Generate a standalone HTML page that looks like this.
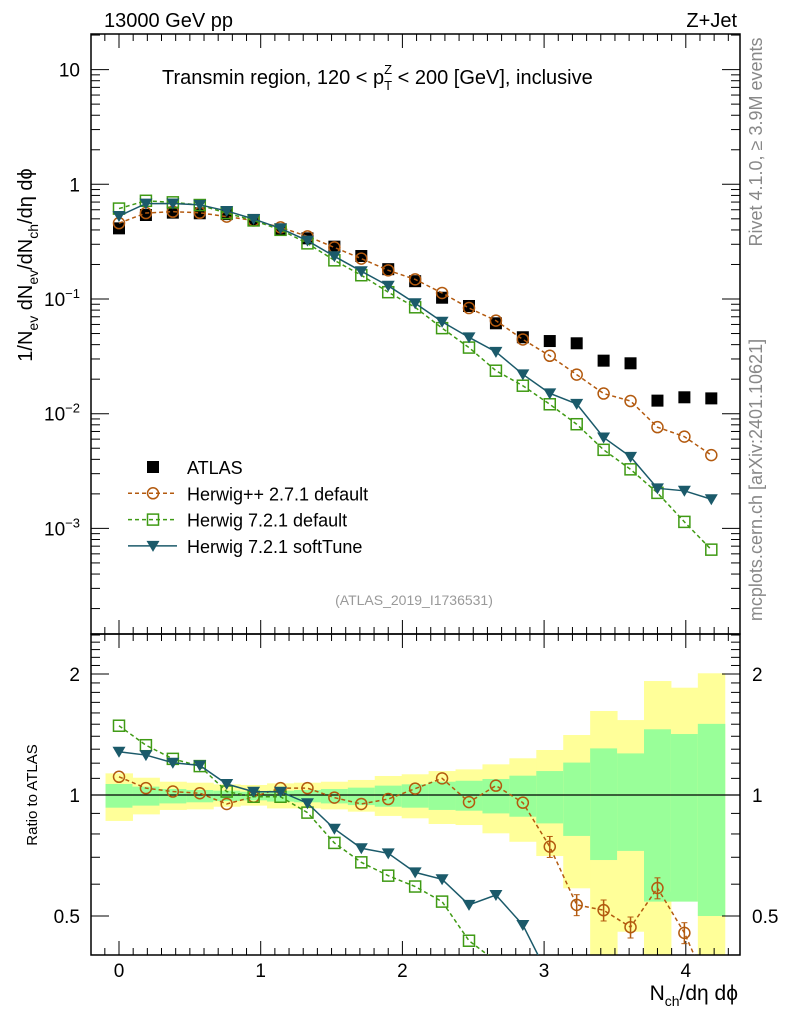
<!DOCTYPE html>
<html><head><meta charset="utf-8"><style>
html,body{margin:0;background:#fff;overflow:hidden;}
svg{display:block;font-family:"Liberation Sans",sans-serif;}
</style></head><body>
<svg id="c" width="786" height="1024" viewBox="0 0 786 1024"></svg>
<script>
const xVals=[0,0.19,0.38,0.57,0.76,0.95,1.14,1.33,1.52,1.71,1.9,2.09,2.28,2.47,2.66,2.85,3.04,3.23,3.42,3.61,3.8,3.99,4.18];
const atlas=[0.413,0.540,0.566,0.559,0.55,0.489,0.405,0.338,0.286,0.237,0.182,0.143,0.1026,0.0869,0.0614,0.0464,0.0430,0.0411,0.0290,0.0275,0.0130,0.0139,0.0136];
const ratioHpp=[1.11,1.04,1.02,1.01,0.95,0.99,1.04,1.04,0.985,0.95,0.977,1.037,1.10,0.96,1.055,0.957,0.744,0.533,0.517,0.469,0.587,0.454,0.32];
const ratioH7=[1.487,1.33,1.23,1.18,1.02,0.99,0.99,0.904,0.76,0.68,0.63,0.592,0.543,0.434,0.386,0.378,0.281,0.197,0.167,0.119,0.157,0.082,0.048];
const ratioSoft=[1.281,1.257,1.203,1.185,1.065,1.019,1.019,0.954,0.824,0.737,0.716,0.642,0.617,0.533,0.564,0.475,0.350,0.296,0.214,0.153,0.172,0.153,0.132];
const yelUp=[1.132,1.104,1.079,1.073,1.063,1.059,1.069,1.073,1.079,1.090,1.115,1.126,1.147,1.158,1.192,1.234,1.294,1.410,1.618,1.536,1.921,1.849,2.008];
const yelDn=[0.862,0.895,0.918,0.921,0.935,0.941,0.926,0.926,0.921,0.909,0.887,0.875,0.847,0.842,0.803,0.765,0.705,0.586,0.3,0.457,0.3,0.575,0.3];
const grnUp=[1.065,1.049,1.035,1.029,1.025,1.019,1.025,1.029,1.035,1.043,1.055,1.063,1.079,1.085,1.096,1.117,1.147,1.204,1.306,1.269,1.457,1.418,1.503];
const grnDn=[0.930,0.941,0.953,0.959,0.966,0.970,0.963,0.959,0.953,0.944,0.935,0.930,0.918,0.914,0.900,0.883,0.850,0.791,0.689,0.726,0.543,0.543,0.500];
const xTicks=[0,1,2,3,4];
const yTicksTop=[{v:10,t:"10"},{v:1,t:"1"},{v:0.1,t:"10<tspan dy='-8' font-size='13'>−1</tspan>"},{v:0.01,t:"10<tspan dy='-8' font-size='13'>−2</tspan>"},{v:0.001,t:"10<tspan dy='-8' font-size='13'>−3</tspan>"}];
const yTicksRat=[2,1,0.5];

const L=91,R=740,T=34,MB=634,B=955;
const X=v=>119+(v)*141.7;
const Yt=v=>184.3-Math.log10(v)*114.7;
const Yr=v=>795-Math.log10(v)*402;
const svg=document.getElementById('c');
const NS="http://www.w3.org/2000/svg";
function mk(tag,attrs,parent){const e=document.createElementNS(NS,tag);for(const k in attrs)e.setAttribute(k,attrs[k]);(parent||svg).appendChild(e);return e;}

const defs=mk('defs',{});
const c1=mk('clipPath',{id:'ct'},defs);mk('rect',{x:L,y:T,width:R-L,height:MB-T},c1);
const c2=mk('clipPath',{id:'cr'},defs);mk('rect',{x:L,y:MB,width:R-L,height:B-MB},c2);

const gBand=mk('g',{'clip-path':'url(#cr)'});


const half=0.095;
xVals.forEach((x,i)=>{
  const x0=X(x-half),x1=X(x+half);
  const y=mk('rect',{x:x0,y:Yr(yelUp[i]),width:x1-x0+0.5,height:Yr(yelDn[i])-Yr(yelUp[i]),fill:'#ffff99'},gBand);
  
  
  const g=mk('rect',{x:x0,y:Yr(grnUp[i]),width:x1-x0+0.5,height:Yr(grnDn[i])-Yr(grnUp[i]),fill:'#99ff99'},gBand);
  
  
});
const one=mk('line',{x1:L,x2:R,y1:Yr(1),y2:Yr(1),stroke:'#000','stroke-width':1.2});



[[T,MB],[MB,B]].forEach(([a,b],k)=>{const r=mk('rect',{x:L,y:a,width:R-L,height:b-a,fill:'none',stroke:'#000','stroke-width':1.5});

});

for(let v=-0.1;v<=4.4;v+=0.1){const vv=Math.round(v*10)/10;const x=X(vv);if(x<L||x>R)continue;
  const maj=Math.abs(vv-Math.round(vv))<1e-6;const len=maj?14:7;
  [[T,1],[MB,-1],[MB,1],[B,-1]].forEach(([y,d])=>mk('line',{x1:x,x2:x,y1:y,y2:y+d*len,stroke:'#000','stroke-width':1}));}
xTicks.forEach(v=>{const t=mk('text',{x:X(v),y:977,'font-size':19,'text-anchor':'middle'});t.textContent=v;

});

for(let d=-4;d<=1;d++)for(let m=1;m<=9;m++){const v=m*Math.pow(10,d);const y=Yt(v);if(y<T||y>MB)continue;
  const len=m==1?18:9;mk('line',{x1:L,x2:L+len,y1:y,y2:y,stroke:'#000'});mk('line',{x1:R,x2:R-len,y1:y,y2:y,stroke:'#000'});}
yTicksTop.forEach(o=>{const t=mk('text',{x:80,y:Yt(o.v)+7,'font-size':19,'text-anchor':'end'});t.innerHTML=o.t;

});
[0.4,0.5,0.6,0.7,0.8,0.9,1,1.1,1.2,1.3,1.4,1.5,1.6,1.7,1.8,1.9,2,2.1,2.2,2.3,2.4,2.5].forEach(v=>{const y=Yr(v);if(y<MB||y>B)return;
  const maj=[0.5,1,2].includes(v);const len=maj?18:9;mk('line',{x1:L,x2:L+len,y1:y,y2:y,stroke:'#000'});mk('line',{x1:R,x2:R-len,y1:y,y2:y,stroke:'#000'});});
yTicksRat.forEach(v=>{[[80,'end'],[752,'start']].forEach(([x,a])=>{const t=mk('text',{x:x,y:Yr(v)+7,'font-size':19,'text-anchor':a});t.textContent=v;

});});

const hppTop=atlas.map((a,i)=>a*ratioHpp[i]);
const h7Top=atlas.map((a,i)=>a*ratioH7[i]);
const softTop=atlas.map((a,i)=>a*ratioSoft[i]);
function marker(type,x,y,col,g){
  if(type=='circ')return mk('circle',{cx:x,cy:y,r:5.5,fill:'none',stroke:col,'stroke-width':1.5},g);
  if(type=='sq')return mk('rect',{x:x-5.5,y:y-5.5,width:11,height:11,fill:'none',stroke:col,'stroke-width':1.5},g);
  if(type=='tri')return mk('path',{d:`M${x-6.5},${y-5} L${x+6.5},${y-5} L${x},${y+6} Z`,fill:col},g);
  return mk('rect',{x:x-6,y:y-6,width:12,height:12,fill:col},g);
}
function series(name,vals,Y,clip,type,col,dash,err){
  const g=mk('g',{'clip-path':clip});
  
  
  if(type!='data'){const p=mk('polyline',{points:vals.map((v,i)=>X(xVals[i])+','+Y(v)).join(' '),fill:'none',stroke:col,'stroke-width':1.5,'stroke-dasharray':dash||'none'},g);
  
  }
  vals.forEach((v,i)=>{
    if(err&&i>=16){const x=X(xVals[i]);const e=0.06;mk('line',{x1:x,x2:x,y1:Y(v*(1+e)),y2:Y(v*(1-e)),stroke:col,'stroke-width':1.5},g);
      mk('line',{x1:x-3,x2:x+3,y1:Y(v*(1+e)),y2:Y(v*(1+e)),stroke:col},g);mk('line',{x1:x-3,x2:x+3,y1:Y(v*(1-e)),y2:Y(v*(1-e)),stroke:col},g);}
    const m=marker(type,X(xVals[i]),Y(v),col,g);
    
    });
}
series('atlas-data',atlas,Yt,'url(#ct)','data','#000');
series('herwigpp-271',hppTop,Yt,'url(#ct)','circ','#b35a0f','4,3');
series('herwig-721-default',h7Top,Yt,'url(#ct)','sq','#3f9a14','4,3');
series('herwig-721-softtune',softTop,Yt,'url(#ct)','tri','#1b5a6a');
series('ratio-herwigpp-271',ratioHpp,Yr,'url(#cr)','circ','#b35a0f','4,3',true);
series('ratio-herwig-721-default',ratioH7,Yr,'url(#cr)','sq','#3f9a14','4,3',true);
series('ratio-herwig-721-softtune',ratioSoft,Yr,'url(#cr)','tri','#1b5a6a',null,true);

const leg=mk('g',{});


const items=[['ATLAS','data','#000',null],['Herwig++ 2.7.1 default','circ','#b35a0f','4,3'],['Herwig 7.2.1 default','sq','#3f9a14','4,3'],['Herwig 7.2.1 softTune','tri','#1b5a6a',null]];
items.forEach((it,i)=>{const y=467+i*26.3;const g=mk('g',{},leg);
  
  
  if(it[1]!='data')mk('line',{x1:128,x2:177,y1:y,y2:y,stroke:it[2],'stroke-width':1.5,'stroke-dasharray':it[3]||'none'},g);
  marker(it[1],153,y,it[2],g);
  const t=mk('text',{x:187,y:y+7,'font-size':18},g);t.textContent=it[0];});

function txt(s,attrs,name){const t=mk('text',attrs);t.innerHTML=s;return t;}
txt('13000 GeV pp',{x:104,y:27,'font-size':20},'energy-label');
txt('Z+Jet',{x:737,y:27,'font-size':20,'text-anchor':'end'},'process-label');
txt('Transmin region, 120 &lt; p<tspan dy="6" font-size="13">T</tspan><tspan dx="-8" dy="-16" font-size="13">Z</tspan><tspan dy="10"> &lt; 200 [GeV], inclusive</tspan>',{x:162,y:84,'font-size':20},'plot-title');
txt('(ATLAS_2019_I1736531)',{x:414,y:605,'font-size':14,fill:'#999','text-anchor':'middle'},'analysis-id');
txt('1/N<tspan dy="6" font-size="14">ev</tspan><tspan dy="-6"> dN</tspan><tspan dy="6" font-size="14">ev</tspan><tspan dy="-6">/dN</tspan><tspan dy="6" font-size="14">ch</tspan><tspan dy="-6">/dη dϕ</tspan>',{x:0,y:0,'font-size':20,transform:'translate(32,265) rotate(-90)','text-anchor':'middle'},'y-axis-title');
txt('Ratio to ATLAS',{x:0,y:0,'font-size':15,transform:'translate(37,795) rotate(-90)','text-anchor':'middle'},'ratio-axis-title');
txt('N<tspan dy="6" font-size="14">ch</tspan><tspan dy="-6">/dη dϕ</tspan>',{x:738,y:1000,'font-size':21,'text-anchor':'end'},'x-axis-title');
txt('Rivet 4.1.0, ≥ 3.9M events',{x:0,y:0,'font-size':18,fill:'#888',transform:'translate(762,142) rotate(-90)','text-anchor':'middle'},'rivet-label');
txt('mcplots.cern.ch [arXiv:2401.10621]',{x:0,y:0,'font-size':18,fill:'#888',transform:'translate(762,480) rotate(-90)','text-anchor':'middle'},'mcplots-label');
</script>
</body></html>
